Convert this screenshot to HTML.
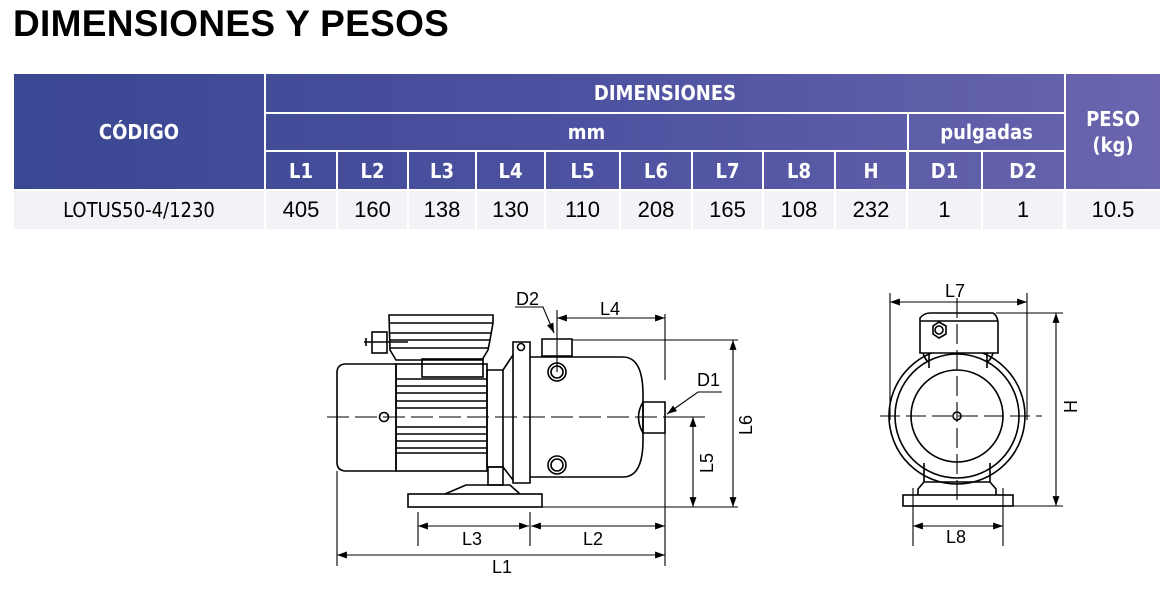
<!DOCTYPE html>
<html><head><meta charset="utf-8"><style>
body{margin:0;width:1172px;height:606px;background:#fff;position:relative;overflow:hidden;font-family:"Liberation Sans",sans-serif}
h1{position:absolute;left:13px;top:3px;margin:0;font-size:37px;font-weight:bold;letter-spacing:0.3px;color:#000}
.c{position:absolute;color:#fff;font-weight:bold;font-size:20px;display:flex;align-items:center;justify-content:center;box-sizing:border-box;font-family:"DejaVu Sans Condensed","Liberation Sans",sans-serif}
.d{position:absolute;background:#f2f2f7;color:#000;font-size:22px;display:flex;align-items:center;justify-content:center}
</style></head><body>
<h1>DIMENSIONES Y PESOS</h1>
<div style="position:absolute;left:14px;top:74px;width:1146px;height:115px;background:linear-gradient(90deg,#3a4793,#4d52a0 50%,#6a65ae)"></div>
<div class="c" style="left:14px;top:74px;width:250px;height:115px">CÓDIGO</div>
<div style="position:absolute;left:264px;top:74px;width:2px;height:155px;background:#fff"></div>
<div style="position:absolute;left:1064px;top:74px;width:2px;height:155px;background:#fff"></div>
<div style="position:absolute;left:264px;top:112px;width:800px;height:2px;background:#fff"></div>
<div style="position:absolute;left:264px;top:150px;width:800px;height:2px;background:#fff"></div>
<div style="position:absolute;left:14px;top:189px;width:1146px;height:2px;background:#fff"></div>
<div style="position:absolute;left:907px;top:113px;width:2px;height:116px;background:#fff"></div>
<div class="c" style="left:266px;top:74px;width:798px;height:38px">DIMENSIONES</div>
<div class="c" style="left:266px;top:113px;width:641px;height:38px">mm</div>
<div class="c" style="left:909px;top:113px;width:155px;height:38px">pulgadas</div>
<div class="c" style="left:1066px;top:74px;width:94px;height:115px;line-height:1.3;text-align:center">PESO<br>(kg)</div>
<div id="cols"></div>
<div class="d" style="left:14px;top:191px;width:250px;height:38px;font-size:20px;font-family:'DejaVu Sans Condensed','Liberation Sans',sans-serif">LOTUS50-4/1230</div>
<script>
var b=[266,337,408,476,545,620,692,763,835,907,982,1064],h=["L1","L2","L3","L4","L5","L6","L7","L8","H","D1","D2"],v=["405","160","138","130","110","208","165","108","232","1","1"],s="";
for(var i=0;i<11;i++){var x=b[i]+(i?1:0),w=b[i+1]-x-1;
s+='<div class="c" style="left:'+x+'px;top:152px;width:'+w+'px;height:37px">'+h[i]+'</div>';
if(i)s+='<div style="position:absolute;left:'+(b[i]-1)+'px;top:151px;width:2px;height:78px;background:#fff"></div>';
s+='<div class="d" style="left:'+x+'px;top:191px;width:'+w+'px;height:38px">'+v[i]+'</div>';}
s+='<div class="d" style="left:1066px;top:191px;width:94px;height:38px">10.5</div>';
document.getElementById("cols").outerHTML=s;
</script>
<svg width="1172" height="606" style="position:absolute;left:0;top:0" fill="none" stroke="#000" stroke-width="1.6" font-family="Liberation Sans, sans-serif">
<defs><marker id="a" viewBox="0 0 10 10" refX="10" refY="5" markerWidth="9" markerHeight="9" orient="auto-start-reverse"><path d="M0,1.5L10,5L0,8.5z" fill="#000" stroke="none"/></marker></defs>
<path d="M396,364H346Q337,364 337,373V462Q337,471 346,471H396Z"/>
<rect x="396" y="364" width="91" height="107"/>
<path d="M396,379H487M396,386H487M396,393H487M396,401H487M396,408H487M396,427H487M396,434H487M396,441H487M396,448H487M396,453H487"/>
<rect x="422" y="359" width="61" height="18"/>
<path d="M389,315H493V323L490,340L488,350L482,360H396L390,350Z"/>
<path d="M389,323H493M390,333H492M390,340H490M390,348H488"/>
<rect x="372" y="332" width="15" height="21"/><path d="M364,342H408M366,338V346"/>
<path d="M487,370H503V467H487Z"/>
<path d="M503,370L513,355M503,467L513,480"/>
<path d="M513,342V483H530V342Z"/>
<circle cx="521" cy="347" r="3.5"/>
<path d="M530,357H623Q643,357 643,395V440Q643,477 623,477H530"/>
<path d="M643,402H665V433H643Z"/><path d="M643,402Q634,417 643,433"/>
<path d="M542,339H572V356H542Z"/>
<circle cx="557" cy="372" r="9"/><circle cx="557" cy="372" r="6"/>
<circle cx="557" cy="465" r="9"/><circle cx="557" cy="465" r="6"/>
<rect x="488" y="467" width="15" height="18"/>
<path d="M445,494L466,485H510L520,494"/>
<rect x="408" y="494" width="134" height="13"/>
<circle cx="384" cy="417" r="4.5"/>
<path d="M327,417H705" stroke-dasharray="22,6" stroke-width="1.1"/>
<path d="M337,471V566M665,314V380M665,433V566M418,512V546M530,512V546M557,310V372M572,340H738M542,507H738M665,417H705" stroke-width="1.1"/>
<path d="M337,555H665" marker-start="url(#a)" marker-end="url(#a)" stroke-width="1.1"/>
<path d="M418,526H529" marker-start="url(#a)" marker-end="url(#a)" stroke-width="1.1"/>
<path d="M531,526H665" marker-start="url(#a)" marker-end="url(#a)" stroke-width="1.1"/>
<path d="M557,318H665" marker-start="url(#a)" marker-end="url(#a)" stroke-width="1.1"/>
<path d="M733,340V507" marker-start="url(#a)" marker-end="url(#a)" stroke-width="1.1"/>
<path d="M693,417V507" marker-start="url(#a)" marker-end="url(#a)" stroke-width="1.1"/>
<path d="M515,307H543L554,333" marker-end="url(#a)" stroke-width="1.1"/>
<path d="M722,392H698L667,414" marker-end="url(#a)" stroke-width="1.1"/>
<g fill="#000" stroke="none" font-size="18">
<text x="516" y="305">D2</text><text x="600" y="315">L4</text><text x="697" y="386">D1</text>
<text x="462" y="545">L3</text><text x="583" y="545">L2</text><text x="492" y="573">L1</text>
<text transform="translate(752,435) rotate(-90)">L6</text>
<text transform="translate(713,473) rotate(-90)">L5</text>
<text x="945" y="297">L7</text><text x="946" y="543">L8</text>
<text transform="translate(1077,413) rotate(-90)">H</text>
</g>
<circle cx="957" cy="416" r="68"/><circle cx="957" cy="416" r="62"/><circle cx="957" cy="416" r="46"/>
<circle cx="957" cy="416" r="4"/>
<path d="M920,318Q924,313 930,313H993Q997,315 998,322V353H920Z" fill="#fff"/>
<path d="M920,321H998"/>
<path d="M929,353V368M987,353V368M923,353Q925,360 929,362M993,353Q991,360 987,362"/>
<path d="M933,326L939,322L946,326V334L939,338L933,334Z"/><circle cx="939" cy="330" r="4"/>
<path d="M924,463V482L918,489V495M990,463V482L996,489V495M924,482H990" fill="none"/>
<rect x="903" y="495" width="110" height="11" fill="#fff"/>
<path d="M880,416H1042M957,298V502" stroke-dasharray="20,6" stroke-width="1.1"/>
<path d="M890,293V420M1027,293V420M996,313H1063M1013,506H1063M913,488V546M1003,488V546" stroke-width="1.1"/>
<path d="M890,302H1027" marker-start="url(#a)" marker-end="url(#a)" stroke-width="1.1"/>
<path d="M913,526H1003" marker-start="url(#a)" marker-end="url(#a)" stroke-width="1.1"/>
<path d="M1056,313V506" marker-start="url(#a)" marker-end="url(#a)" stroke-width="1.1"/>
</svg>
</body></html>
